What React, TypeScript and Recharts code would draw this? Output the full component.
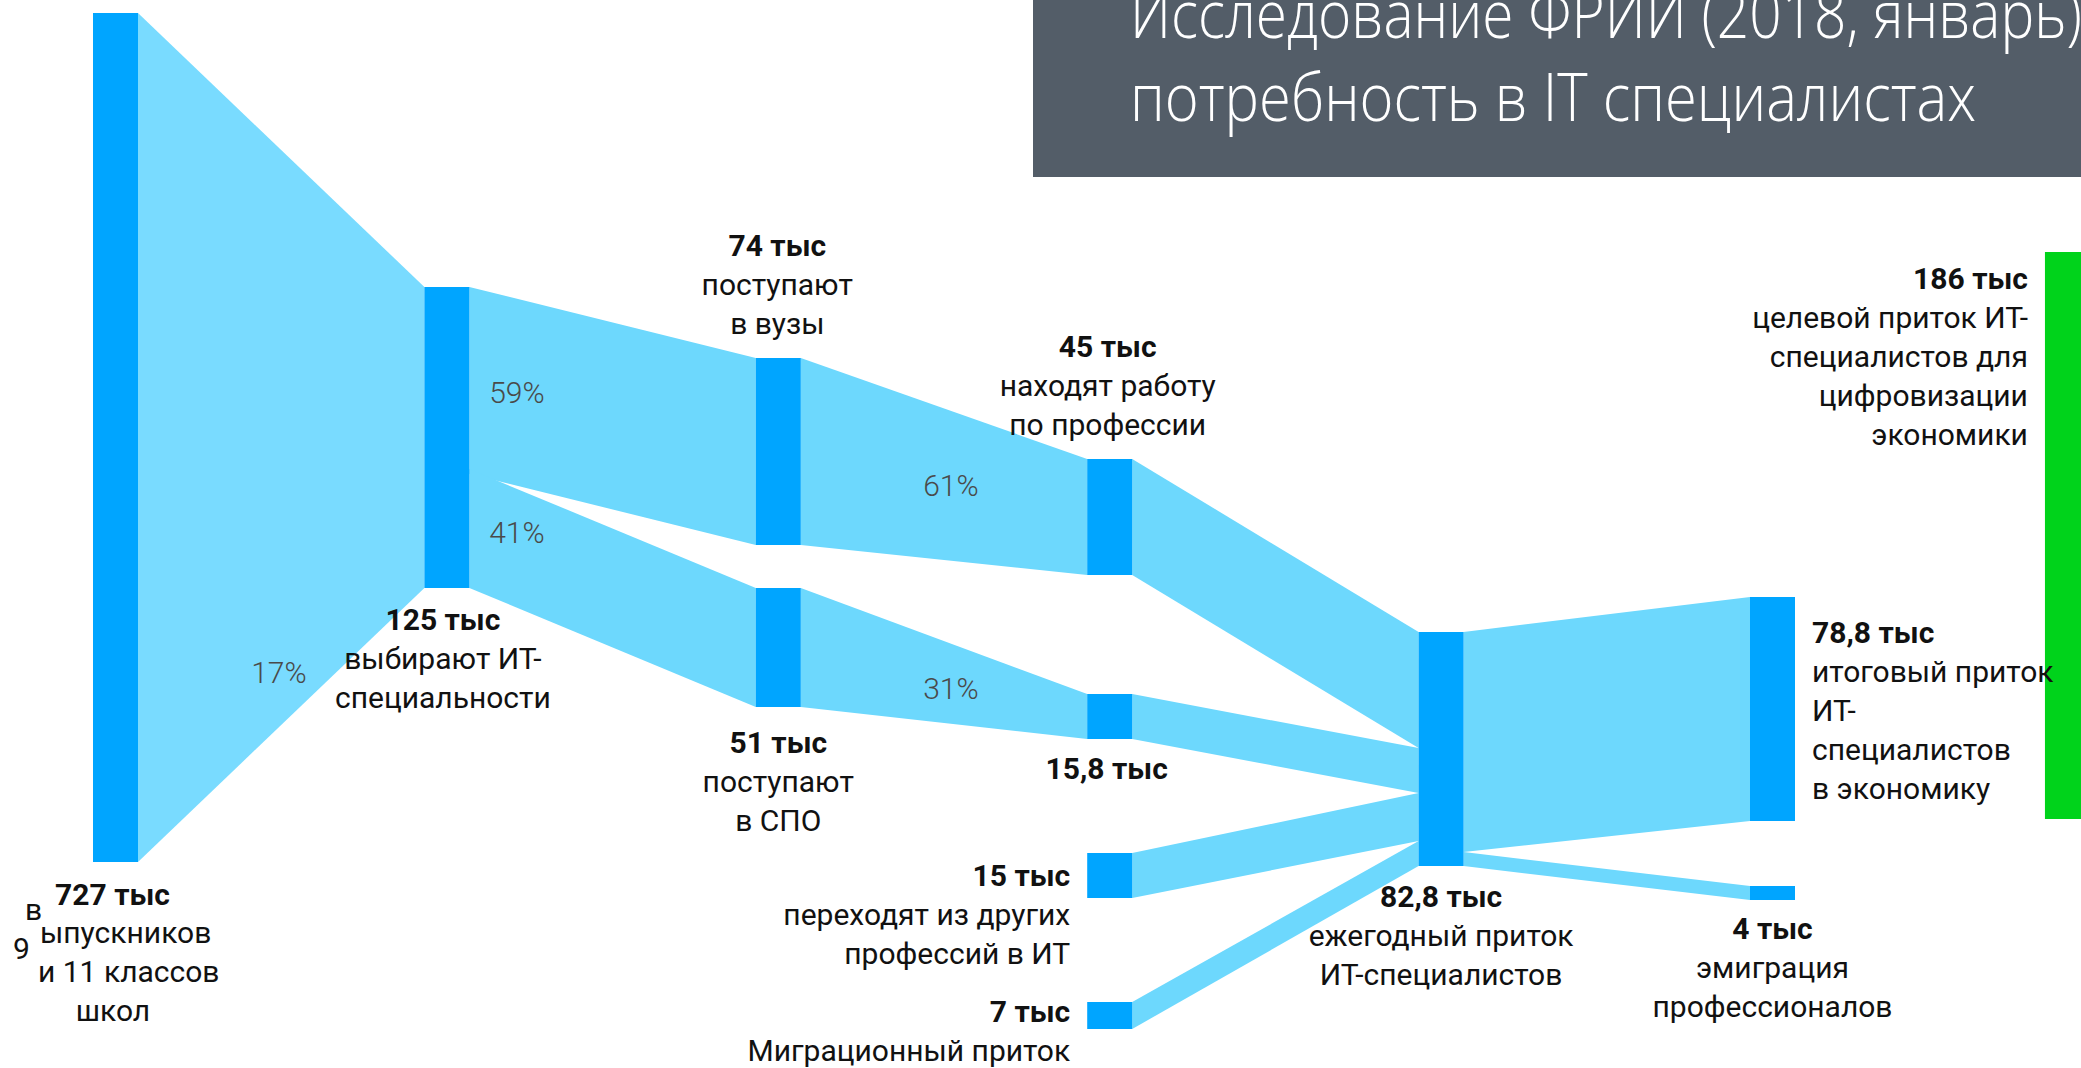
import React from 'react';
import { ComposedChart, XAxis, YAxis, Area, ReferenceArea, ReferenceDot } from 'recharts';

// ---------------- data ----------------
const NODE_VALUES = [727, 125, 74, 51, 45, 15.8, 15, 7, 82.8, 78.8, 4, 186];
const NODE_CAPTIONS: string[][] = [
  ['в', 'ыпускников', '9', 'и 11 классов', 'школ'],
  ['выбирают ИТ-', 'специальности'],
  ['поступают', 'в вузы'],
  ['поступают', 'в СПО'],
  ['находят работу', 'по профессии'],
  [],
  ['переходят из других', 'профессий в ИТ'],
  ['Миграционный приток'],
  ['ежегодный приток', 'ИТ-специалистов'],
  ['итоговый приток', 'ИТ-', 'специалистов', 'в экономику'],
  ['эмиграция', 'профессионалов'],
  ['целевой приток ИТ-', 'специалистов для', 'цифровизации', 'экономики'],
];
const LINK_SOURCES = [0, 1, 1, 2, 3, 4, 5, 6, 7, 8, 8];
const LINK_TARGETS = [1, 2, 3, 4, 5, 8, 8, 8, 8, 9, 10];
const LINKS_WITH_SHARE = [0, 1, 2, 3, 4];
const TITLE_LINES = ['Исследование ФРИИ (2018, январь)', 'потребность в IT специалистах'];
const UNIT = 'тыс';

// ---------------- layout (separate from data) ----------------
const W = 2081;
const H = 1068;
const COL_X0 = 93;
const COL_STEP = 331.4;
const X_MIN = -COL_X0 / COL_STEP;
const X_MAX = (W - COL_X0) / COL_STEP;
const NODE_W = 45 / COL_STEP;

const NODE_LAYOUT = [
  { col: 0, top: 13, bottom: 862 },
  { col: 1, top: 287, bottom: 588 },
  { col: 2, top: 358, bottom: 545 },
  { col: 2, top: 588, bottom: 707 },
  { col: 3, top: 459, bottom: 575 },
  { col: 3, top: 694, bottom: 739 },
  { col: 3, top: 853, bottom: 898 },
  { col: 3, top: 1002, bottom: 1029 },
  { col: 4, top: 632, bottom: 866 },
  { col: 5, top: 597, bottom: 821 },
  { col: 5, top: 886, bottom: 900 },
  { col: 5.89, top: 252, bottom: 819, toEdge: true },
];
const NODE_COLORS = ['#00a5ff', '#00a5ff', '#00a5ff', '#00a5ff', '#00a5ff', '#00a5ff', '#00a5ff', '#00a5ff', '#00a5ff', '#00a5ff', '#00a5ff', '#00d31b'];

const LINK_PORTS = [
  { s: [0, 1], t: [0, 1] },
  { s: [0, 0.621], t: [0, 1] },
  { s: [0.605, 1], t: [0, 1] },
  { s: [0, 1], t: [0, 1] },
  { s: [0, 1], t: [0, 1] },
  { s: [0, 1], t: [0, 0.496] },
  { s: [0, 1], t: [0.496, 0.688] },
  { s: [0, 1], t: [0.688, 0.893] },
  { s: [0, 1], t: [0.893, 1] },
  { s: [0, 0.94], t: [0, 1] },
  { s: [0.94, 1], t: [0, 1] },
];
const LINK_COLORS = ['#79dbff', '#6dd8fd', '#6dd8fd', '#6dd8fd', '#6dd8fd', '#6dd8fd', '#6dd8fd', '#6dd8fd', '#6dd8fd', '#6dd8fd', '#6dd8fd'];
const SHARE_POS = [
  { t: 0.492, v: 0.905 },
  { t: 0.166, v: 0.5 },
  { t: 0.166, v: 0.367 },
  { t: 0.524, v: 0.498 },
  { t: 0.524, v: 0.56 },
];

type Place = 'above' | 'below' | 'left' | 'right';
const LABEL_LAYOUT: { place: Place; dx: number; dy: number }[] = [
  { place: 'below', dx: -3, dy: 43 },
  { place: 'below', dx: -4, dy: 42 },
  { place: 'above', dx: -1, dy: -102 },
  { place: 'below', dx: 0, dy: 46 },
  { place: 'above', dx: -2, dy: -102 },
  { place: 'below', dx: -3, dy: 40 },
  { place: 'left', dx: -17, dy: 33 },
  { place: 'left', dx: -17, dy: 20 },
  { place: 'below', dx: 0, dy: 41 },
  { place: 'right', dx: 17, dy: 46 },
  { place: 'below', dx: 0, dy: 39 },
  { place: 'left', dx: -17, dy: 37 },
];
// the first node's caption is broken into fragments placed individually
const GRADS_FRAGMENTS = [
  { dx: -87.5, dy: 15, anchor: 'start' },
  { dx: -72.5, dy: 38, anchor: 'start' },
  { dx: -99.5, dy: 54, anchor: 'start' },
  { dx: -74.5, dy: 77, anchor: 'start' },
  { dx: 0.5, dy: 116, anchor: 'middle' },
];
const LINE_H = 39;
const FONT = 'Roboto, "Liberation Sans", sans-serif';

// ---------------- helpers ----------------
const lerp = (a: number, b: number, t: number) => a + (b - a) * t;
const fmt = (v: number) => `${String(v).replace('.', ',')} ${UNIT}`;

function linkGeom(i: number) {
  const s = NODE_LAYOUT[LINK_SOURCES[i]];
  const t = NODE_LAYOUT[LINK_TARGETS[i]];
  const p = LINK_PORTS[i];
  const sh = s.bottom - s.top;
  const th = t.bottom - t.top;
  return {
    x0: s.col + NODE_W,
    x1: t.col,
    st: s.top + p.s[0] * sh,
    sb: s.top + p.s[1] * sh,
    tt: t.top + p.t[0] * th,
    tb: t.top + p.t[1] * th,
  };
}

function labelAnchor(i: number) {
  const n = NODE_LAYOUT[i];
  const place = LABEL_LAYOUT[i].place;
  if (place === 'below') return { x: n.col + NODE_W / 2, y: n.bottom };
  if (place === 'above') return { x: n.col + NODE_W / 2, y: n.top };
  if (place === 'left') return { x: n.col, y: n.top };
  return { x: n.col + NODE_W, y: n.top };
}

function makeLabelShape(i: number) {
  const lay = LABEL_LAYOUT[i];
  const anchor = lay.place === 'left' ? 'end' : lay.place === 'right' ? 'start' : 'middle';
  return (p: any) => {
    const x = p.cx + lay.dx;
    const y = p.cy + lay.dy;
    const caps = NODE_CAPTIONS[i];
    return (
      <g>
        <text x={x} y={y} textAnchor={anchor} fontFamily={FONT} fontSize={30} fontWeight={700} fill="#111">
          {fmt(NODE_VALUES[i])}
        </text>
        {caps.map((c, k) => {
          if (i === 0) {
            const f = GRADS_FRAGMENTS[k];
            return (
              <text key={k} x={x + f.dx} y={y + f.dy} textAnchor={f.anchor as any} fontFamily={FONT} fontSize={30} fill="#111">
                {c}
              </text>
            );
          }
          return (
            <text key={k} x={x} y={y + (k + 1) * LINE_H} textAnchor={anchor} fontFamily={FONT} fontSize={30} fill="#111">
              {c}
            </text>
          );
        })}
      </g>
    );
  };
}

function shareText(i: number) {
  const pct = Math.round((NODE_VALUES[LINK_TARGETS[i]] / NODE_VALUES[LINK_SOURCES[i]]) * 100);
  return `${pct}%`;
}

export default function App() {
  return (
    <div style={{ position: 'absolute', left: 0, top: 0, width: W, height: H, overflow: 'hidden', background: '#fff' }}>
      <ComposedChart width={W} height={H} margin={{ top: 0, right: 0, bottom: 0, left: 0 }}>
        <XAxis type="number" dataKey="x" domain={[X_MIN, X_MAX]} allowDataOverflow hide />
        <YAxis type="number" domain={[0, H]} reversed allowDataOverflow hide />
        {LINK_SOURCES.map((_, i) => {
          const g = linkGeom(i);
          const data = [
            { x: g.x0, y: [g.sb, g.st] },
            { x: g.x1, y: [g.tb, g.tt] },
          ];
          return (
            <Area
              key={`link-${i}`}
              data={data}
              dataKey="y"
              type="linear"
              stroke="none"
              fill={LINK_COLORS[i]}
              fillOpacity={1}
              dot={false}
              activeDot={false}
              isAnimationActive={false}
            />
          );
        })}
        {NODE_LAYOUT.map((n, i) => (
          <ReferenceArea
            key={`node-${i}`}
            x1={n.col}
            x2={n.toEdge ? X_MAX : n.col + NODE_W}
            y1={n.top}
            y2={n.bottom}
            fill={NODE_COLORS[i]}
            fillOpacity={1}
            stroke="none"
            ifOverflow="visible"
          />
        ))}
        {LINKS_WITH_SHARE.map((li, k) => {
          const g = linkGeom(li);
          const pos = SHARE_POS[k];
          const x = lerp(g.x0, g.x1, pos.t);
          const top = lerp(g.st, g.tt, pos.t);
          const bot = lerp(g.sb, g.tb, pos.t);
          const y = lerp(top, bot, pos.v);
          return (
            <ReferenceDot
              key={`share-${li}`}
              x={x}
              y={y}
              r={0}
              ifOverflow="visible"
              shape={(p: any) => (
                <text x={p.cx} y={p.cy + 10.5} textAnchor="middle" fontFamily={FONT} fontSize={30} fontWeight={300} fill="#4a4a4a">
                  {shareText(li)}
                </text>
              )}
            />
          );
        })}
        {NODE_LAYOUT.map((_, i) => {
          const a = labelAnchor(i);
          return <ReferenceDot key={`label-${i}`} x={a.x} y={a.y} r={0} ifOverflow="visible" shape={makeLabelShape(i)} />;
        })}
      </ComposedChart>
      <div style={{ position: 'absolute', left: 1033, top: 0, width: W - 1033, height: 177, background: '#535d68' }}>
        <svg width={W - 1033} height={177} style={{ display: 'block' }}>
          <text x={97} y={38} fontFamily='"Open Sans", "Noto Sans", sans-serif' fontWeight={300} fontSize={66} fill="#fff" textLength={952} lengthAdjust="spacingAndGlyphs">
            {TITLE_LINES[0]}
          </text>
          <text x={97} y={121} fontFamily='"Open Sans", "Noto Sans", sans-serif' fontWeight={300} fontSize={66} fill="#fff" textLength={846} lengthAdjust="spacingAndGlyphs">
            {TITLE_LINES[1]}
          </text>
        </svg>
      </div>
    </div>
  );
}
